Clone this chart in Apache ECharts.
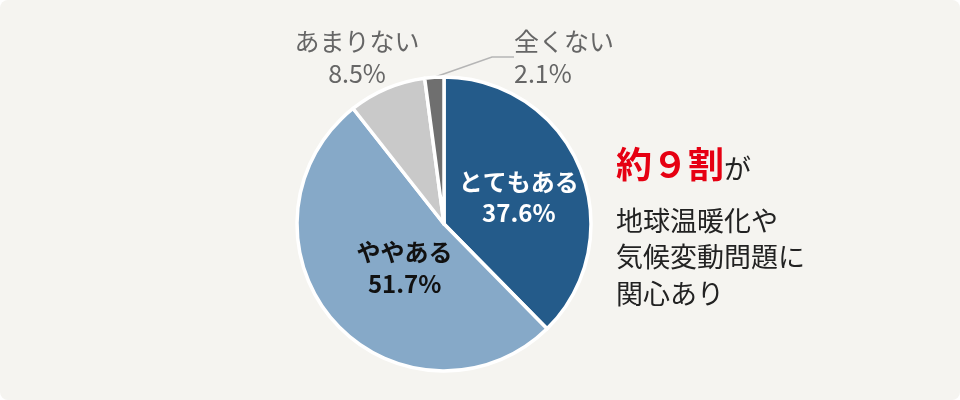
<!DOCTYPE html>
<html>
<head>
<meta charset="utf-8">
<script src="https://cdn.jsdelivr.net/npm/echarts@6/dist/echarts.min.js"></script>
<style>
html,body{margin:0;padding:0;background:#ffffff;}
#chart{width:960px;height:400px;background:#f5f4f0;border-radius:8px;}
</style>
</head>
<body>
<div id="chart"></div>
<script>
const categories = ['とてもある', 'ややある', 'あまりない', '全くない'];
const values = [37.6, 51.7, 8.5, 2.1];
const colors = ['#245b8a', '#86a9c8', '#c9c9c9', '#6f6f6f'];
const calloutLines = [
  { text: '約９割', tail: 'が' },
  '地球温暖化や',
  '気候変動問題に',
  '関心あり'
];

const FONT = '"Noto Sans CJK JP", "Noto Sans", sans-serif';
const chart = echarts.init(document.getElementById('chart'), null, { renderer: 'canvas' });

const labelStyles = [
  { position: 'inside', color: '#ffffff', fontWeight: 'bold', fontSize: 24, lineHeight: 31 },
  { position: 'inside', color: '#111111', fontWeight: 'bold', fontSize: 24, lineHeight: 32 },
  { position: 'outside', color: '#666666', fontWeight: 'normal', fontSize: 25, lineHeight: 32 },
  { position: 'outside', color: '#666666', fontWeight: 'normal', fontSize: 25, lineHeight: 32 }
];

const data = categories.map((name, i) => ({
  name: name,
  value: values[i],
  itemStyle: { color: colors[i] },
  label: Object.assign({ fontFamily: FONT, align: i === 3 ? 'left' : 'center' }, labelStyles[i]),
  labelLine: { show: i === 3, lineStyle: { color: '#b5b5b5', width: 1.5 }, length: 14, length2: 22, smooth: false }
}));

const option = {
  backgroundColor: 'transparent',
  animation: false,
  series: [{
    type: 'pie',
    center: [444, 224],
    radius: [0, 147],
    startAngle: 90,
    clockwise: true,
    avoidLabelOverlap: false,
    itemStyle: { borderColor: '#ffffff', borderWidth: 3.5 },
    label: {
      formatter: p => p.name + '\n' + p.value.toFixed(1) + '%'
    },
    emphasis: { disabled: true },
    labelLayout: function (params) {
      if (params.dataIndex === 0) return { dx: 4, dy: 2 };
      if (params.dataIndex === 1) return { dx: 18, dy: -7 };
      if (params.dataIndex === 2) return { x: 357, y: 57, align: 'center', verticalAlign: 'middle' };
      if (params.dataIndex === 3) return { x: 514, y: 57, align: 'left', verticalAlign: 'middle' };
    },
    data: data
  }],
  graphic: [
    {
      type: 'text', left: 616, top: 146,
      style: {
        text: '{r|' + calloutLines[0].text + '}{k|' + calloutLines[0].tail + '}',
        rich: {
          r: { fontFamily: FONT, fontSize: 36, fontWeight: 'bold', fill: '#e60012', verticalAlign: 'bottom' },
          k: { fontFamily: FONT, fontSize: 27, fill: '#222222', verticalAlign: 'bottom' }
        }
      }
    },
    {
      type: 'text', left: 616, top: 202,
      style: {
        text: calloutLines.slice(1).join('\n'),
        fontFamily: FONT, fontSize: 27, lineHeight: 36.5, fill: '#222222'
      }
    }
  ]
};
chart.setOption(option);
</script>
</body>
</html>
